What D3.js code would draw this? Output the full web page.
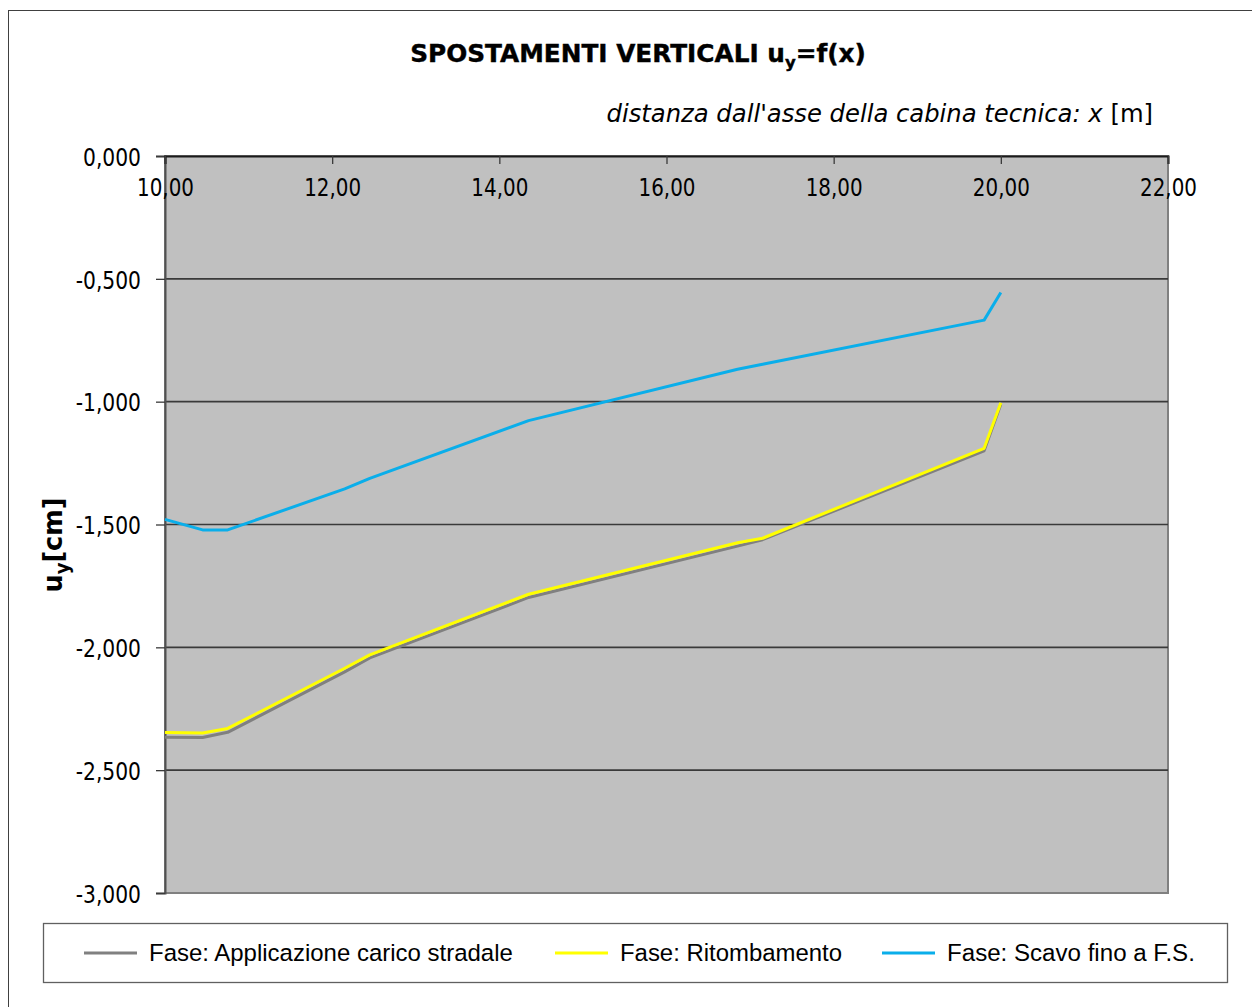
<!DOCTYPE html>
<html>
<head>
<meta charset="utf-8">
<script src="https://cdn.jsdelivr.net/npm/d3@7"></script>
<style>
  html, body { margin: 0; padding: 0; background: #ffffff; }
  svg { display: block; }
</style>
</head>
<body>
<script>
// Distance from the axis of the technical cabin [m]
const xDistanza = [10.0, 10.45, 10.75, 12.15, 12.45, 14.35, 16.85, 17.15, 19.8, 20.0];
// Vertical displacement u_y [cm] for each construction phase
const uyCaricoStradale = [-2.366, -2.367, -2.346, -2.100, -2.043, -1.797, -1.588, -1.562, -1.200, -1.010];
const uyRitombamento   = [-2.347, -2.349, -2.330, -2.085, -2.031, -1.784, -1.574, -1.556, -1.190, -1.004];
const uyScavo          = [-1.479, -1.522, -1.522, -1.355, -1.312, -1.077, -0.868, -0.848, -0.668, -0.556];

const seriesNames = ["Fase: Applicazione carico stradale", "Fase: Ritombamento", "Fase: Scavo fino a F.S."];
const seriesColors = ["#808080", "#ffff00", "#0aaeea"];

const xTicks = [10, 12, 14, 16, 18, 20, 22];
const yTicks = [0, -0.5, -1, -1.5, -2, -2.5, -3];

const W = 1252, H = 1007;
const plot = { left: 165, top: 156, right: 1168, bottom: 893 };

const itLocale = d3.formatLocale({ decimal: ",", thousands: ".", grouping: [3], currency: ["€", ""], minus: "-" });
const fmtX = itLocale.format(".2f");
const fmtY = itLocale.format(".3f");

const svg = d3.select("body").append("svg").attr("width", W).attr("height", H);

// horizontally squeeze a text element around an anchor x so it spans width w
function squeeze(sel, w, ax) {
  const bw = sel.node().getBBox().width;
  const s = w / bw;
  sel.attr("transform", `translate(${ax},0) scale(${s},1) translate(${-ax},0)`);
  return s;
}
function scaleAround(sel, s, ax) {
  sel.attr("transform", `translate(${ax},0) scale(${s},1) translate(${-ax},0)`);
}

// outer chart frame
svg.append("rect").attr("x", 8.5).attr("y", 10.5).attr("width", 1400).attr("height", 1200)
  .attr("fill", "#fff").attr("stroke", "#404040").attr("stroke-width", 1);

const x = d3.scaleLinear().domain([10, 22]).range([plot.left, plot.right]);
const y = d3.scaleLinear().domain([-3, 0]).range([plot.bottom, plot.top]);

// plot area
svg.append("rect").attr("x", plot.left).attr("y", plot.top)
  .attr("width", plot.right - plot.left).attr("height", plot.bottom - plot.top)
  .attr("fill", "#c0c0c0").attr("stroke", "#808080").attr("stroke-width", 2);

// horizontal gridlines
svg.append("g").selectAll("line").data(yTicks.filter(d => d !== 0 && d !== -3)).join("line")
  .attr("x1", plot.left).attr("x2", plot.right)
  .attr("y1", d => y(d)).attr("y2", d => y(d))
  .attr("stroke", "#3a3a3a").attr("stroke-width", 1.6);

// left axis with outward ticks
const yAxis = svg.append("g").attr("transform", `translate(${plot.left},0)`)
  .call(d3.axisLeft(y).tickValues(yTicks).tickSize(9).tickPadding(14).tickFormat(fmtY));
yAxis.select(".domain").attr("stroke", "#505050").attr("stroke-width", 2);
yAxis.selectAll(".tick line").attr("stroke", "#3a3a3a").attr("stroke-width", 1.3);
yAxis.selectAll(".tick text")
  .attr("font-family", "DejaVu Sans").attr("font-size", 24.5).attr("fill", "#000")
  .attr("dy", "0.38em").attr("x", -24);
{
  const t0 = yAxis.select(".tick text");
  const s = 58 / t0.node().getBBox().width;
  yAxis.selectAll(".tick text").each(function () { scaleAround(d3.select(this), s, -24); });
}

// top axis with inward ticks and labels drawn inside the plot
const xAxis = svg.append("g").attr("transform", `translate(0,${plot.top})`)
  .call(d3.axisTop(x).tickValues(xTicks).tickSize(-8).tickFormat(fmtX));
xAxis.select(".domain").attr("stroke", "#1a1a1a").attr("stroke-width", 2);
xAxis.selectAll(".tick line").attr("stroke", "#3a3a3a").attr("stroke-width", 1.3);
xAxis.selectAll(".tick text")
  .attr("font-family", "DejaVu Sans").attr("font-size", 24.5).attr("fill", "#000")
  .attr("y", 40).attr("dy", 0).attr("text-anchor", "middle");
{
  const t0 = xAxis.select(".tick text");
  const s = 57 / t0.node().getBBox().width;
  xAxis.selectAll(".tick text").each(function () { scaleAround(d3.select(this), s, 0); });
}

// series lines
const line = d3.line().x(d => x(d[0])).y(d => y(d[1]));
const seriesValues = [uyCaricoStradale, uyRitombamento, uyScavo];
svg.append("g").selectAll("path").data(seriesValues).join("path")
  .attr("d", vals => line(vals.map((v, i) => [xDistanza[i], v])))
  .attr("fill", "none")
  .attr("stroke", (d, i) => seriesColors[i])
  .attr("stroke-width", 3)
  .attr("stroke-linejoin", "round");

// chart title
const title = svg.append("text").attr("x", 638).attr("y", 62).attr("text-anchor", "middle")
  .attr("font-family", "DejaVu Sans").attr("font-weight", "bold").attr("font-size", 24).attr("fill", "#000")
  .attr("stroke", "#000").attr("stroke-width", 0.4);
title.append("tspan").text("SPOSTAMENTI VERTICALI u");
title.append("tspan").attr("font-size", 16).attr("dy", 6).text("y");
title.append("tspan").attr("dy", -6).text("=f(x)");
squeeze(title, 456, 638);

// x axis title
const xt = svg.append("text").attr("x", 1153).attr("y", 122).attr("text-anchor", "end")
  .attr("font-family", "DejaVu Sans").attr("font-size", 25).attr("fill", "#000");
xt.append("tspan").attr("font-style", "italic").text("distanza dall'asse della cabina tecnica: x");
xt.append("tspan").text(" [m]");
squeeze(xt, 547, 1153);

// y axis title
const yt = svg.append("g").attr("transform", "translate(62,545) rotate(-90)");
const ytText = yt.append("text").attr("x", 0).attr("y", 0).attr("text-anchor", "middle")
  .attr("font-family", "DejaVu Sans").attr("font-weight", "bold").attr("font-size", 27).attr("fill", "#000");
ytText.append("tspan").text("u");
ytText.append("tspan").attr("font-size", 19).attr("dy", 7).text("y");
ytText.append("tspan").attr("dy", -7).text("[cm]");
squeeze(ytText, 95, 0);

// legend
const legend = svg.append("g");
legend.append("rect").attr("x", 43.5).attr("y", 923.5).attr("width", 1184).attr("height", 59)
  .attr("fill", "#fff").attr("stroke", "#606060").attr("stroke-width", 1.3);
const legendX = [84, 555, 882];
const legendTextW = [364, 222, 248];
seriesNames.forEach((name, i) => {
  legend.append("line").attr("x1", legendX[i]).attr("x2", legendX[i] + 53)
    .attr("y1", 953).attr("y2", 953)
    .attr("stroke", seriesColors[i]).attr("stroke-width", 3);
  const t = legend.append("text").attr("x", legendX[i] + 65).attr("y", 961)
    .attr("font-family", "Liberation Sans").attr("font-size", 24.5).attr("fill", "#000").text(name);
  squeeze(t, legendTextW[i], legendX[i] + 65);
});
</script>
</body>
</html>
